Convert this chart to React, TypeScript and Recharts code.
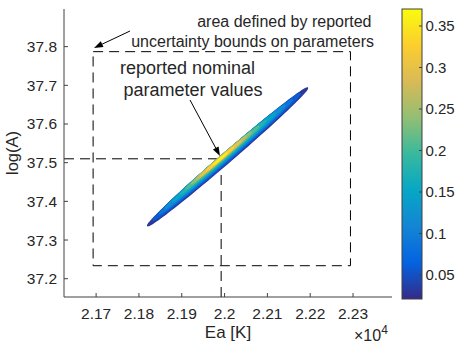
import React from "react";
import {
  ScatterChart,
  Scatter,
  XAxis,
  YAxis,
  ReferenceArea,
  ReferenceLine,
} from "recharts";

// axes
const eaTicks = [21700, 21800, 21900, 22000, 22100, 22200, 22300];
const logATicks = [37.2, 37.3, 37.4, 37.5, 37.6, 37.7, 37.8];
const eaDomain = [21625, 22391];
const logADomain = [37.1527, 37.8973];

// reported uncertainty box and nominal parameter values
const boundsEa = [21693, 22294];
const boundsLogA = [37.2336, 37.787];
const nominalEa = 21992;
const nominalLogA = 37.51;

// contour levels of the density (outer -> inner)
const levels = [0.03, 0.06, 0.09, 0.12, 0.15, 0.18, 0.21, 0.24, 0.27, 0.3, 0.33, 0.36];
const levelCenterEa = [22007, 22005, 22003, 22001, 21999, 21997, 21995, 21993, 21992, 21991, 21990, 21990];
const levelCenterLogA = [37.515, 37.515, 37.515, 37.515, 37.514, 37.514, 37.513, 37.513, 37.512, 37.511, 37.51, 37.51];
const levelHalfSpanEa = [187, 172, 155, 140, 120, 100, 85, 70, 58, 48, 32, 16];
const levelHalfWidthLogA = [0.017, 0.0148, 0.013, 0.0114, 0.0099, 0.0086, 0.0074, 0.0062, 0.0051, 0.004, 0.0029, 0.0017];
const ridgeSlope = 0.00095; // log(A) per K along the ridge

// colorbar
const cbarRange = [0.0211, 0.3705];
const cbarTicks = [0.05, 0.1, 0.15, 0.2, 0.25, 0.3, 0.35];

const parula = ["#352a87", "#0363e1", "#1485d4", "#06a7c6", "#38b99e", "#92bf73", "#d9ba56", "#fcce2e", "#f9fb0e"];

function hexToRgb(h: string) {
  return [1, 3, 5].map((i) => parseInt(h.slice(i, i + 2), 16));
}

function parulaColor(v: number) {
  const t = Math.max(0, Math.min(1, (v - cbarRange[0]) / (cbarRange[1] - cbarRange[0])));
  const p = t * (parula.length - 1);
  const i = Math.min(parula.length - 2, Math.floor(p));
  const f = p - i;
  const a = hexToRgb(parula[i]);
  const b = hexToRgb(parula[i + 1]);
  const c = a.map((x, k) => Math.round(x + (b[k] - x) * f));
  return `rgb(${c[0]},${c[1]},${c[2]})`;
}

function contourPoints(i: number) {
  const pts: { ea: number; la: number }[] = [];
  const n = 120;
  for (let k = 0; k <= n; k++) {
    const t = (k / n) * 2 * Math.PI;
    const dx = levelHalfSpanEa[i] * Math.cos(t);
    pts.push({
      ea: levelCenterEa[i] + dx,
      la: levelCenterLogA[i] + ridgeSlope * dx + levelHalfWidthLogA[i] * Math.sin(t),
    });
  }
  return pts;
}

const noDot = () => <g />;

const axisColor = "#404040";
const textColor = "#262626";
const font = "'Liberation Sans', Arial, sans-serif";

function Colorbar() {
  const x = 402;
  const top = 9;
  const bottom = 299;
  const w = 20;
  const yOf = (v: number) =>
    bottom - ((v - cbarRange[0]) / (cbarRange[1] - cbarRange[0])) * (bottom - top);
  return (
    <g>
      <defs>
        <linearGradient id="parula" x1="0" y1="1" x2="0" y2="0">
          {parula.map((c, i) => (
            <stop key={i} offset={i / (parula.length - 1)} stopColor={c} />
          ))}
        </linearGradient>
      </defs>
      <rect x={x} y={top} width={w} height={bottom - top} fill="url(#parula)" stroke={axisColor} strokeWidth={1} />
      {cbarTicks.map((v) => (
        <g key={v}>
          <line x1={x + w - 3} x2={x + w} y1={yOf(v)} y2={yOf(v)} stroke={axisColor} />
          <text x={x + w + 3.5} y={yOf(v)} dy="0.355em" fontSize={15} fill={textColor} fontFamily={font}>
            {v}
          </text>
        </g>
      ))}
    </g>
  );
}

function Arrow({ x1, y1, x2, y2 }: { x1: number; y1: number; x2: number; y2: number }) {
  const ang = Math.atan2(y2 - y1, x2 - x1);
  const len = 9;
  const half = 3.2;
  const bx = x2 - len * Math.cos(ang);
  const by = y2 - len * Math.sin(ang);
  const px = -Math.sin(ang) * half;
  const py = Math.cos(ang) * half;
  return (
    <g>
      <line x1={x1} y1={y1} x2={bx} y2={by} stroke="#000" strokeWidth={1} />
      <polygon points={`${x2},${y2} ${bx + px},${by + py} ${bx - px},${by - py}`} fill="#000" />
    </g>
  );
}

export default function App() {
  return (
    <div style={{ position: "absolute", left: 0, top: 0, width: 457, height: 344, background: "#fff", fontFamily: font }}>
      <ScatterChart width={457} height={344} margin={{ top: 9, right: 65, bottom: 0, left: 0 }}>
        <XAxis
          type="number"
          dataKey="ea"
          domain={eaDomain}
          ticks={eaTicks}
          allowDataOverflow
          height={47}
          tickSize={-4}
          tickMargin={15}
          stroke={axisColor}
          tick={{ fontSize: 15.5, fill: textColor, fontFamily: font }}
          tickFormatter={(v: number) => String(v / 1e4)}
        />
        <XAxis
          xAxisId="top"
          orientation="top"
          type="number"
          domain={eaDomain}
          ticks={eaTicks}
          allowDataOverflow
          height={0}
          tickSize={-4}
          tick={false}
          stroke={axisColor}
        />
        <YAxis
          type="number"
          dataKey="la"
          domain={logADomain}
          ticks={logATicks}
          allowDataOverflow
          width={64}
          tickSize={-4}
          tickMargin={11}
          stroke={axisColor}
          tick={{ fontSize: 15.5, fill: textColor, fontFamily: font }}
          tickFormatter={(v: number) => v.toFixed(1)}
        />
        <YAxis
          yAxisId="right"
          orientation="right"
          type="number"
          domain={logADomain}
          ticks={logATicks}
          allowDataOverflow
          width={0}
          tickSize={-4}
          tick={false}
          stroke={axisColor}
        />
        <ReferenceArea
          x1={boundsEa[0]}
          x2={boundsEa[1]}
          y1={boundsLogA[0]}
          y2={boundsLogA[1]}
          fill="none"
          stroke="#000"
          strokeWidth={1}
          strokeDasharray="10 6"
        />
        {levels.map((lv, i) => (
          <Scatter
            key={lv}
            data={contourPoints(i)}
            line={{ stroke: parulaColor(lv), fill: parulaColor(lv), strokeWidth: 1.2 }}
            lineType="joint"
            shape={noDot}
            isAnimationActive={false}
          />
        ))}
        <ReferenceLine
          segment={[
            { x: eaDomain[0], y: nominalLogA },
            { x: nominalEa, y: nominalLogA },
          ]}
          stroke="#000"
          strokeWidth={1}
          strokeDasharray="10 6"
        />
        <ReferenceLine
          segment={[
            { x: nominalEa, y: logADomain[0] },
            { x: nominalEa, y: nominalLogA },
          ]}
          stroke="#000"
          strokeWidth={1}
          strokeDasharray="10 6"
        />
      </ScatterChart>
      <svg
        width={457}
        height={344}
        style={{ position: "absolute", left: 0, top: 0, pointerEvents: "none" }}
      >
        <Colorbar />
        <text x={371.5} y={27} textAnchor="end" fontSize={16} fill={textColor} fontFamily={font}>
          area defined by reported
        </text>
        <text x={374} y={47} textAnchor="end" fontSize={16} fill={textColor} fontFamily={font}>
          uncertainty bounds on parameters
        </text>
        <Arrow x1={130} y1={31} x2={94} y2={48} />
        <text x={187.5} y={74} textAnchor="middle" fontSize={18} fill={textColor} fontFamily={font}>
          reported nominal
        </text>
        <text x={193} y={95.5} textAnchor="middle" fontSize={18} fill={textColor} fontFamily={font}>
          parameter values
        </text>
        <Arrow x1={190} y1={100} x2={220} y2={156} />
        <text x={228} y={338} textAnchor="middle" fontSize={17} fill={textColor} fontFamily={font}>
          Ea [K]
        </text>
        <text x={354} y={341} fontSize={16} fill={textColor} fontFamily={font}>
          ×10<tspan dy={-7} fontSize={12}>4</tspan>
        </text>
        <text
          x={18}
          y={153}
          transform="rotate(-90 18 153)"
          textAnchor="middle"
          fontSize={16.5}
          fill={textColor}
          fontFamily={font}
        >
          log(A)
        </text>
      </svg>
    </div>
  );
}
